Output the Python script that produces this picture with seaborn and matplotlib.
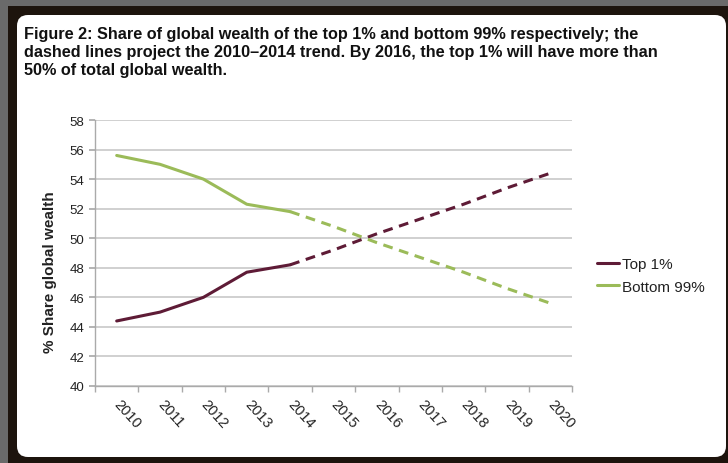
import matplotlib
matplotlib.use("Agg")
import matplotlib.pyplot as plt
from matplotlib.patches import FancyBboxPatch, Rectangle
from matplotlib.lines import Line2D
import seaborn as sns
import pandas as pd

years = [2010, 2011, 2012, 2013, 2014, 2015, 2016, 2017, 2018, 2019, 2020]
hist_years = [2010, 2011, 2012, 2013, 2014]
top1_hist = [44.4, 45.0, 46.0, 47.7, 48.2]
bottom99_hist = [55.6, 55.0, 54.0, 52.3, 51.8]
proj_years = [2014, 2015, 2016, 2017, 2018, 2019, 2020]
top1_proj = [48.2, 49.2, 50.3, 51.3, 52.3, 53.4, 54.4]
bottom99_proj = [51.8, 50.8, 49.7, 48.7, 47.7, 46.6, 45.6]
series_names = ["Top 1%", "Bottom 99%"]
yticks = [40, 42, 44, 46, 48, 50, 52, 54, 56, 58]
title = ("Figure 2: Share of global wealth of the top 1% and bottom 99% respectively; the\n"
         "dashed lines project the 2010\u20132014 trend. By 2016, the top 1% will have more than\n"
         "50% of total global wealth.")
ylabel = "% Share global wealth"

sns.set_theme(style="white")
plt.rcParams['font.family'] = ['Liberation Sans', 'DejaVu Sans']

maroon = "#5e1b36"
green = "#9bbb59"
palette = {series_names[0]: maroon, series_names[1]: green}

W, H = 728, 464
fig = plt.figure(figsize=(W / 100, H / 100), dpi=100)
fig.patch.set_facecolor("#6a6a6a")
# dark frame
fig.add_artist(Rectangle((8 / W, 0), 1, 1 - 7 / H, transform=fig.transFigure,
                         facecolor="#1d140d", edgecolor="none", zorder=0))
# white rounded panel
fig.add_artist(FancyBboxPatch((17 / W, 6 / H), (726 - 17) / W, (448 - 6) / H,
                              boxstyle="round,pad=0,rounding_size=0.015",
                              transform=fig.transFigure, facecolor="white",
                              edgecolor="none", zorder=0, mutation_aspect=W / H))

idx = {y: i for i, y in enumerate(years)}
hist = pd.DataFrame({
    "x": [idx[y] for y in hist_years] * 2,
    "value": top1_hist + bottom99_hist,
    "series": [series_names[0]] * len(hist_years) + [series_names[1]] * len(hist_years),
})
proj = pd.DataFrame({
    "x": [idx[y] for y in proj_years] * 2,
    "value": top1_proj + bottom99_proj,
    "series": [series_names[0]] * len(proj_years) + [series_names[1]] * len(proj_years),
})

ax = fig.add_axes([95 / W, 77 / H, 477 / W, 266 / H])
ax.set_facecolor("white")
sns.lineplot(data=hist, x="x", y="value", hue="series", palette=palette,
             linewidth=2.2, ax=ax, legend=False)
sns.lineplot(data=proj, x="x", y="value", hue="series", palette=palette,
             linewidth=2.2, ax=ax, legend=False, dashes=False)
for line in ax.lines[2:]:
    line.set_linestyle((0, (3.2, 2.2)))

ax.set_xlim(-0.5, len(years) - 0.5)
ax.set_ylim(40, 58)
ax.set_yticks(yticks)
ax.set_yticklabels([str(t) for t in yticks], fontsize=9.5, color="#222222")
ax.yaxis.grid(True, color="#c4c4c4", linewidth=1.1)
ax.set_axisbelow(True)
ax.set_xticks(range(len(years)))
ax.set_xticklabels([str(y) for y in years], rotation=-48, ha="left", va="center",
                   rotation_mode="anchor", fontsize=10.5, color="#222222")
ax.tick_params(axis="x", which="major", length=0, pad=11)
ax.set_xticks([i - 0.5 for i in range(len(years) + 1)], minor=True)
ax.tick_params(axis="x", which="minor", length=4, color="#aaaaaa", direction="out", bottom=True)
ax.tick_params(axis="y", length=4, color="#aaaaaa", direction="out", left=True)
for s in ["top", "right"]:
    ax.spines[s].set_visible(False)
for s in ["left", "bottom"]:
    ax.spines[s].set_color("#aaaaaa")
    ax.spines[s].set_linewidth(1.0)
ax.set_xlabel("")
ax.set_ylabel(ylabel, fontsize=11, fontweight="bold", color="#222222")
ax.yaxis.set_label_coords(-0.08, 0.43)

handles = [Line2D([0], [0], color=palette[n], linewidth=2.2) for n in series_names]
leg = fig.legend(handles, series_names, loc="upper left",
                 bbox_to_anchor=(591 / W, 1 - 252 / H), frameon=False,
                 fontsize=11, handlelength=1.45, handletextpad=0.15,
                 labelspacing=0.55, borderaxespad=0)
for t in leg.get_texts():
    t.set_color("#222222")

fig.text(24 / W, 1 - 27 / H, title, fontsize=11.7, fontweight="bold",
         va="top", ha="left", color="#111111", linespacing=1.27)

fig.savefig("out.png", dpi=100, facecolor=fig.get_facecolor())
